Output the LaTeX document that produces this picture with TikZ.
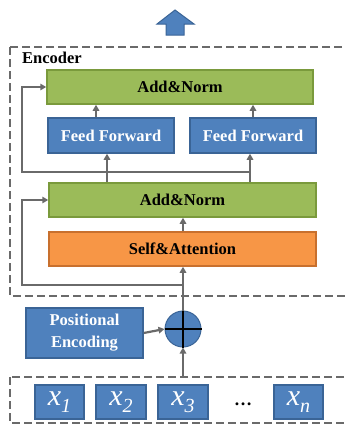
\documentclass[tikz,border=0pt]{standalone}
\usepackage{fontspec}
\setmainfont{Liberation Serif}
\usetikzlibrary{arrows.meta,calc}
\definecolor{bfill}{HTML}{4F81BD}
\definecolor{bdraw}{HTML}{3A6496}
\definecolor{gfill}{HTML}{9BBB59}
\definecolor{gdraw}{HTML}{7A9A3C}
\definecolor{ofill}{HTML}{F79646}
\definecolor{odraw}{HTML}{C8702E}
\definecolor{lgray}{HTML}{6A6A6A}
\tikzset{
  boxbase/.style={rectangle, line width=1.5pt, inner sep=0pt, font=\fontsize{16.5}{20}\selectfont\bfseries},
  bluebox/.style={boxbase, fill=bfill, draw=bdraw, text=white},
  greenbox/.style={boxbase, fill=gfill, draw=gdraw, text=black},
  orangebox/.style={boxbase, fill=ofill, draw=odraw, text=black},
  xbox/.style={rectangle, fill=bfill, draw=bdraw, line width=1.5pt, text=white, minimum width=49pt, minimum height=34pt, inner sep=0pt},
  dashbox/.style={draw=lgray, line width=2pt, dash pattern=on 8pt off 4pt},
  conn/.style={draw=lgray, line width=2.2pt, -{Triangle[length=6pt,width=6.5pt]}},
}
\newcommand{\xlab}[1]{\fontsize{30}{30}\selectfont\itshape x\raisebox{-7pt}{\fontsize{20}{20}\selectfont #1}}
\begin{document}
\begin{tikzpicture}[x=1pt,y=-1pt]
\useasboundingbox (0,0) rectangle (345,426);
\begin{scope}
\clip (0,0) rectangle (345,426);
% dashed boxes
\draw[dashbox] (10,47) rectangle (365,296);
\draw[dashbox] (10,377) rectangle (365,423);
\end{scope}
\node[anchor=south west, inner sep=0pt] (enc) at (22,64) {\fontsize{16.5}{20}\selectfont\bfseries Encoder};
% up arrow
\draw[fill=bfill, draw=bdraw, line width=1pt] (175,10) -- (194,24) -- (184,24) -- (184,35) -- (166,35) -- (166,24) -- (157,24) -- cycle;

% boxes
\node[greenbox, minimum width=266pt, minimum height=34pt] (topAN) at (180,87) {Add\&Norm};
\node[bluebox, minimum width=126pt, minimum height=35pt] (ff1) at (111,135.5) {Feed Forward};
\node[bluebox, minimum width=126pt, minimum height=35pt] (ff2) at (253,135.5) {Feed Forward};
\node[greenbox, minimum width=267pt, minimum height=34pt] (midAN) at (182.5,200) {Add\&Norm};
\node[orangebox, minimum width=267pt, minimum height=34pt] (SA) at (182.5,249) {Self\&Attention};
\node[bluebox, minimum width=117pt, minimum height=50pt, align=center, font=\fontsize{16.5}{22}\selectfont\bfseries] (PE) at (84.5,333) {Positional\\Encoding};
\node[circle, fill=bfill, draw=bdraw, line width=1pt, minimum size=36pt, inner sep=0pt] (circ) at (183,329) {};
\draw[black, line width=2pt] (circ.north) -- (circ.south) (circ.west) -- (circ.east);

% inputs
\node[xbox] (x1) at (59.5,402) {\xlab{1}};
\node[xbox, minimum width=50pt] (x2) at (121,402) {\xlab{2}};
\node[xbox, minimum width=50pt] (x3) at (183,402) {\xlab{3}};
\node[inner sep=0pt] (dots) at (243,404) {\fontsize{18}{18}\selectfont\bfseries …};
\node[xbox] (xn) at (298.5,402) {\xlab{n}};

% helper coordinates
\coordinate (inTop) at (183,377);
\coordinate (cL) at (107,0);
\coordinate (cR) at (250,0);
\coordinate (tL) at (96,0);
\coordinate (tR) at (253,0);
\coordinate (rx) at (22,0);
\coordinate (r1) at (250,172);
\coordinate (r2) at (183,285);

% connectors
\draw[conn] (inTop) -- (circ.south);
\draw[conn] (PE.east) -- (circ.west);
\draw[conn] (circ.north) -- (circ.north |- SA.south);
\draw[conn] (SA.north -| circ.north) -- (midAN.south -| circ.north);
\draw[conn] (cL |- midAN.north) -- (cL |- ff1.south);
\draw[conn] (cR |- midAN.north) -- (cR |- ff2.south);
\draw[conn] (tL |- ff1.north) -- (tL |- topAN.south);
\draw[conn] (tR |- ff2.north) -- (tR |- topAN.south);
\draw[conn] (r1) -- (rx |- r1) -- (rx |- topAN.west) -- (topAN.west);
\draw[conn] (r2) -- (rx |- r2) -- (rx |- midAN.west) -- (midAN.west);
\end{tikzpicture}
\end{document}
